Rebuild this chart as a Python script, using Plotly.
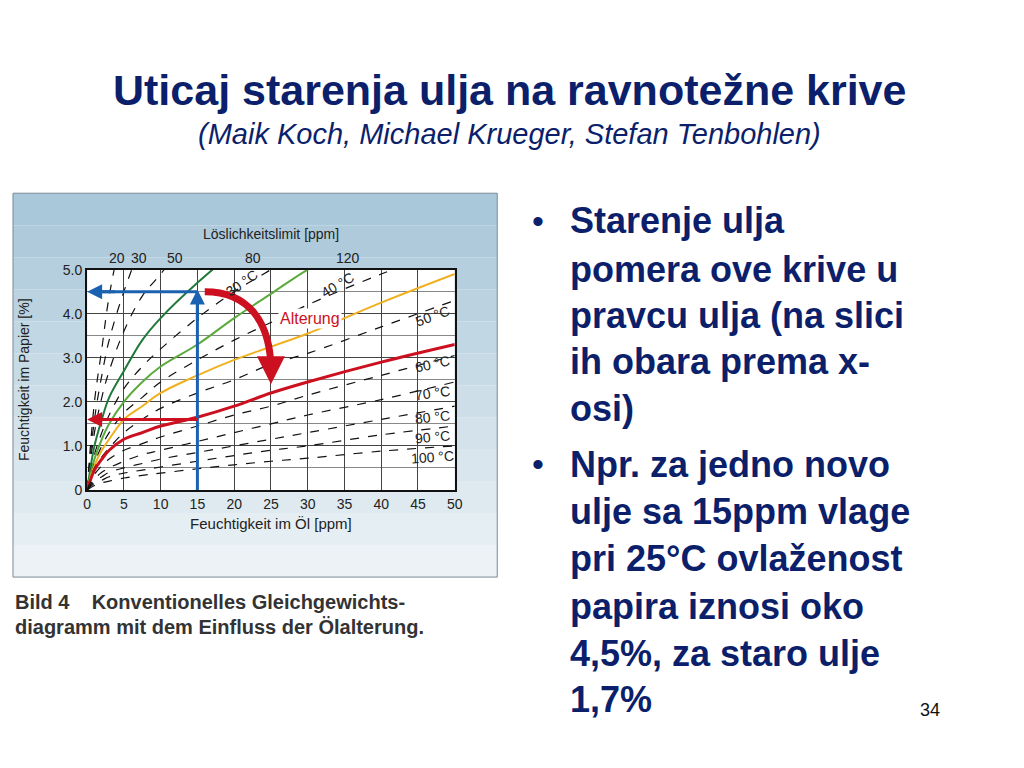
import plotly.graph_objects as go

x_pts = [0, 1, 2, 3, 5, 7.5, 10, 15, 20, 25, 30, 40, 50]
curves = {
    "d1": [0, 2.0, 3.2, 4.4, 6.0, 7.5, 9, 11, 13, 15, 17, 20, 23],
    "d2": [0, 1.6, 2.6, 3.4, 4.5, 5.6, 6.5, 8, 9, 10, 11, 13, 15],
    "d3": [0, 1.3, 2.1, 2.7, 3.6, 4.4, 4.9, 6.0, 7, 8, 9, 10, 11],
    "green_dark": [0, 1.0, 1.6, 2.1, 2.7, 3.4, 3.9, 4.7, 5.4, 6, 6.6, 7.6, 8.5],
    "d5": [0, 0.8, 1.3, 1.7, 2.3, 2.8, 3.2, 3.9, 4.5, 5.0, 5.5, 6.4, 7.2],
    "green_light": [0, 0.7, 1.15, 1.5, 2.0, 2.45, 2.8, 3.3, 3.9, 4.45, 5.0, 5.9, 6.8],
    "d40": [0, 0.6, 1.0, 1.3, 1.75, 2.1, 2.45, 2.95, 3.4, 3.8, 4.2, 4.9, 5.5],
    "orange": [0, 0.55, 0.9, 1.15, 1.6, 1.9, 2.2, 2.6, 2.95, 3.25, 3.55, 4.25, 4.9],
    "d50": [0, 0.5, 0.75, 0.95, 1.3, 1.6, 1.85, 2.2, 2.5, 2.85, 3.1, 3.7, 4.3],
    "red": [0, 0.45, 0.7, 0.9, 1.15, 1.3, 1.45, 1.65, 1.9, 2.2, 2.45, 2.9, 3.3],
    "d60": [0, 0.35, 0.55, 0.7, 0.9, 1.05, 1.2, 1.45, 1.7, 1.9, 2.15, 2.6, 3.05],
    "d70": [0, 0.25, 0.4, 0.5, 0.65, 0.8, 0.9, 1.1, 1.3, 1.5, 1.7, 2.05, 2.45],
    "d80": [0, 0.2, 0.3, 0.4, 0.5, 0.6, 0.7, 0.85, 1.0, 1.15, 1.3, 1.6, 1.9],
    "d90": [0, 0.15, 0.22, 0.3, 0.38, 0.45, 0.52, 0.65, 0.78, 0.9, 1.0, 1.25, 1.45],
    "d100": [0, 0.1, 0.16, 0.2, 0.27, 0.33, 0.38, 0.48, 0.57, 0.65, 0.72, 0.88, 1.0],
}
styles = {"green_dark": ("#1f7a3a", "solid", 2), "green_light": ("#5aaa3c", "solid", 2),
          "orange": ("#f0b020", "solid", 2), "red": ("#cc1020", "solid", 3)}

right_labels = ["180", "260", "360", "500", "660", "800"]
right_y = [4.35, 3.12, 2.4, 1.9, 1.43, 1.0]
top_labels = ["20", "30", "50", "80", "120"]
top_x = [4, 7, 12, 22.5, 35.5]
temp_labels = ["30 °C", "40 °C", "50 °C", "60 °C", "70 °C", "80 °C", "90 °C", "100 °C"]
temp_x = [21, 34, 47, 47, 47, 47, 47, 47]
temp_y = [4.7, 4.65, 3.95, 2.85, 2.2, 1.65, 1.2, 0.75]
temp_rot = [-35, -30, -20, -12, -8, -6, -5, -4]

OFF = 9
def PX(p): return (p - OFF) / 1024
def PY(p): return 1 - (p - OFF) / 768

fig = go.Figure()
for name, ys in curves.items():
    c, d, w = styles.get(name, ("#111111", "dash", 1.2))
    fig.add_trace(go.Scatter(x=x_pts, y=ys, mode="lines", line=dict(color=c, dash=d, width=w, shape="spline"),
                             showlegend=False, hoverinfo="skip"))

top = (169, 200, 217); bot = (236, 242, 246)
n = 12
shapes = []
for i in range(n):
    t = i / (n - 1)
    col = "rgb(%d,%d,%d)" % tuple(int(top[k] + (bot[k] - top[k]) * t) for k in range(3))
    shapes.append(dict(type="rect", xref="paper", yref="paper", x0=PX(10), x1=PX(500),
                       y0=PY(190 + (i + 1) * 392 / n), y1=PY(190 + i * 392 / n),
                       fillcolor=col, line_width=0, layer="below"))
shapes.append(dict(type="rect", xref="paper", yref="paper", x0=PX(10), x1=PX(500), y0=PY(582), y1=PY(190),
                   line=dict(color="#7a8a96", width=1), layer="below"))
shapes.append(dict(type="rect", xref="x", yref="y", x0=0, x1=50, y0=0, y1=5, fillcolor="white", line_width=0, layer="below"))
shapes.append(dict(type="line", xref="x", yref="y", x0=15, x1=15, y0=0, y1=4.3, line=dict(color="#1a62b0", width=3)))
shapes.append(dict(type="line", xref="x", yref="y", x0=15, x1=1, y0=4.5, y1=4.5, line=dict(color="#1a62b0", width=3)))
shapes.append(dict(type="line", xref="x", yref="y", x0=15, x1=1, y0=1.6, y1=1.6, line=dict(color="#cc1020", width=3)))
shapes.append(dict(type="path", xref="x", yref="y", path="M 16,4.5 C 22,4.5 25,3.8 25,2.7",
                   line=dict(color="#cc1020", width=7)))
fig.update_layout(shapes=shapes)

ann = []
def A(**k):
    k.setdefault("yanchor", "middle")
    ann.append(k)
A(x=PX(512), y=PY(85), xref="paper", yref="paper", text="<b>Uticaj starenja ulja na ravnotežne krive</b>",
  showarrow=False, font=dict(size=43, color="#0c1f6b"))
A(x=PX(512), y=PY(130), xref="paper", yref="paper", text="<i>(Maik Koch, Michael Krueger, Stefan Tenbohlen)</i>",
  showarrow=False, font=dict(size=29, color="#0c1f6b"))
A(x=15, y=4.55, ax=15, ay=3.8, xref="x", yref="y", axref="x", ayref="y", text="", showarrow=True, arrowhead=2, arrowsize=1, arrowwidth=3, arrowcolor="#1a62b0")
A(x=0, y=4.5, ax=4, ay=4.5, xref="x", yref="y", axref="x", ayref="y", text="", showarrow=True, arrowhead=2, arrowwidth=3, arrowcolor="#1a62b0")
A(x=0, y=1.6, ax=4, ay=1.6, xref="x", yref="y", axref="x", ayref="y", text="", showarrow=True, arrowhead=2, arrowwidth=3, arrowcolor="#cc1020")
A(x=25, y=2.4, ax=25, ay=2.9, xref="x", yref="y", axref="x", ayref="y", text="", showarrow=True, arrowhead=2, arrowsize=0.8, arrowwidth=7, arrowcolor="#cc1020")
A(x=-0.3, y=4.5, xref="x", yref="y", text="Neu", xanchor="right", showarrow=False, font=dict(size=15, color="#1a62b0"))
A(x=-0.3, y=1.6, xref="x", yref="y", text="Alt", xanchor="right", showarrow=False, font=dict(size=15, color="#cc1020"))
A(x=26, y=3.9, xref="x", yref="y", text="Alterung", xanchor="left", showarrow=False, bgcolor="white", font=dict(size=16, color="#cc1020"))
for t, yv in zip(right_labels, right_y):
    A(x=51, y=yv, xref="x", yref="y", text=t, xanchor="left", showarrow=False, font=dict(size=14, color="#222"))
for t, xv in zip(top_labels, top_x):
    A(x=xv, y=5.0, xref="x", yref="y", text=t, yanchor="bottom", yshift=2, showarrow=False, font=dict(size=14, color="#222"))
A(x=25, y=PY(232), xref="x", yref="paper", text="Löslichkeitslimit [ppm]", showarrow=False, font=dict(size=14, color="#222"))
for t, xv, yv, r in zip(temp_labels, temp_x, temp_y, temp_rot):
    A(x=xv, y=yv, xref="x", yref="y", text=t, textangle=r, showarrow=False, font=dict(size=14, color="#222"))
A(x=PX(10), y=PY(607), xref="paper", yref="paper", xanchor="left",
  text="<b>Bild 4    Konventionelles Gleichgewichts-</b>", showarrow=False, font=dict(size=20, color="#333"))
A(x=PX(10), y=PY(633), xref="paper", yref="paper", xanchor="left",
  text="<b>diagramm mit dem Einfluss der Ölalterung.</b>", showarrow=False, font=dict(size=20, color="#333"))
bullet1 = ["Starenje ulja", "pomera ove krive u", "pravcu ulja (na slici", "ih obara prema x-", "osi)"]
bullet2 = ["Npr. za jedno novo", "ulje sa 15ppm vlage", "pri 25°C ovlaženost", "papira iznosi oko", "4,5%, za staro ulje", "1,7%"]
ys1 = [218, 268, 315, 362, 410]
ys2 = [467, 515, 563, 612, 660, 707]
for lines, ys in ((bullet1, ys1), (bullet2, ys2)):
    A(x=PX(533), y=PY(ys[0]), xref="paper", yref="paper", xanchor="left", text="•", showarrow=False,
      font=dict(size=34, color="#0c1f6b"))
    for t, yy in zip(lines, ys):
        A(x=PX(572), y=PY(yy), xref="paper", yref="paper", xanchor="left", text="<b>%s</b>" % t,
          showarrow=False, font=dict(size=36, color="#0c1f6b"))
A(x=PX(950), y=PY(718), xref="paper", yref="paper", text="34", showarrow=False, font=dict(size=18, color="#111"))

fig.update_layout(
    annotations=ann, width=1024, height=768, margin=dict(l=0, r=0, t=0, b=0),
    paper_bgcolor="white", plot_bgcolor="rgba(0,0,0,0)",
    font=dict(family="Liberation Sans, Arial, sans-serif"),
    xaxis=dict(domain=[PX(85), PX(457)], range=[0, 50], tickvals=list(range(0, 55, 5)),
               showgrid=True, gridcolor="#444", gridwidth=1, zeroline=False, showline=True, linecolor="#111", linewidth=2,
               mirror=True, tickfont=dict(size=14, color="#222"),
               title=dict(text="Feuchtigkeit im Öl [ppm]", font=dict(size=15, color="#222"), standoff=8)),
    yaxis=dict(domain=[PY(493), PY(268)], range=[0, 5], tickvals=[0, 1, 2, 3, 4, 5],
               ticktext=["0", "1.0", "2.0", "3.0", "4.0", "5.0"], showgrid=True, gridcolor="#444",
               minor=dict(dtick=0.5, showgrid=True, gridcolor="#888"),
               zeroline=False, showline=True, linecolor="#111", linewidth=2, mirror=True,
               tickfont=dict(size=14, color="#222"),
               title=dict(text="Feuchtigkeit im Papier [%]", font=dict(size=14, color="#222"), standoff=30)),
)
fig.write_html("out.html")
